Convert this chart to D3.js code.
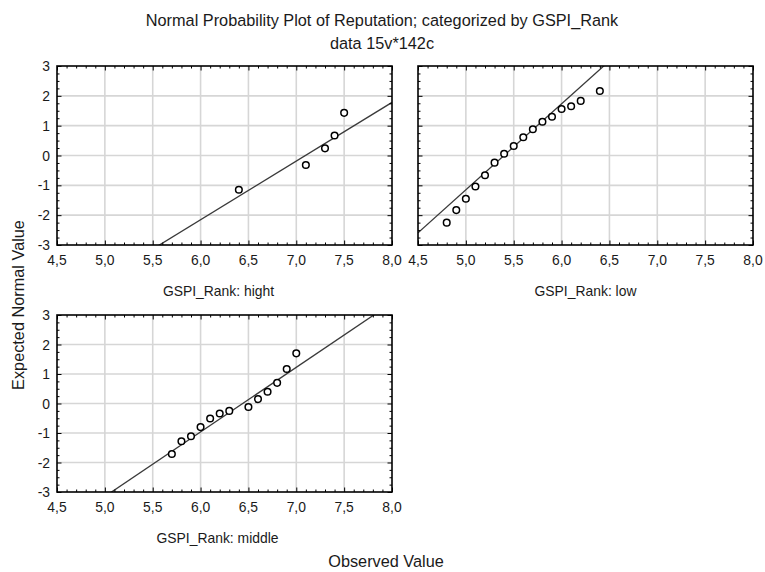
<!DOCTYPE html>
<html><head><meta charset="utf-8">
<script src="https://cdn.jsdelivr.net/npm/d3@7"></script>
<style>
body{margin:0;background:#fff;}
svg{display:block;font-family:"Liberation Sans",Arial,sans-serif;}
</style></head>
<body>
<svg id="chart" width="765" height="572"></svg>
<script>
// ---- data ----
const titleLines = ["Normal Probability Plot of Reputation; categorized by GSPI_Rank", "data 15v*142c"];
const xAxisTitle = "Observed Value";
const yAxisTitle = "Expected Normal Value";
const panelLabels = ["GSPI_Rank: hight", "GSPI_Rank: low", "GSPI_Rank: middle"];
const xTicks = [4.5, 5.0, 5.5, 6.0, 6.5, 7.0, 7.5, 8.0];
const yTicks = [-3, -2, -1, 0, 1, 2, 3];

const hightObserved = [6.4, 7.1, 7.3, 7.4, 7.5];
const hightExpected = [-1.15, -0.32, 0.24, 0.67, 1.43];
const lowObserved = [4.8, 4.9, 5.0, 5.1, 5.2, 5.3, 5.4, 5.5, 5.6, 5.7, 5.8, 5.9, 6.0, 6.1, 6.2, 6.4];
const lowExpected = [-2.25, -1.83, -1.45, -1.04, -0.66, -0.24, 0.06, 0.32, 0.61, 0.88, 1.13, 1.30, 1.56, 1.65, 1.83, 2.16];
const middleObserved = [5.7, 5.8, 5.9, 6.0, 6.1, 6.2, 6.3, 6.5, 6.6, 6.7, 6.8, 6.9, 7.0];
const middleExpected = [-1.71, -1.28, -1.11, -0.80, -0.51, -0.34, -0.25, -0.12, 0.15, 0.40, 0.70, 1.17, 1.70];
// fitted lines: expected = intercept + slope * observed
const fitIntercepts = [-13.956, -15.555, -14.103];
const fitSlopes = [1.967, 2.881, 2.19];

// ---- layout ----
const svg = d3.select("#chart");
const txt = "#1a1a1a";
const panels = [
  {obs: hightObserved, exp: hightExpected, label: panelLabels[0], x0: 57, x1: 392, y0: 66, y1: 245, yLabels: true, labelDx: -6},
  {obs: lowObserved, exp: lowExpected, label: panelLabels[1], x0: 418, x1: 753, y0: 66, y1: 245, yLabels: false, labelDx: 0},
  {obs: middleObserved, exp: middleExpected, label: panelLabels[2], x0: 57, x1: 392, y0: 315, y1: 492, yLabels: true, labelDx: -7}
];
const fmt = v => d3.format(".1f")(v).replace(".", ",");

svg.append("text").attr("x", 382).attr("y", 26).attr("text-anchor", "middle")
  .attr("font-size", 16.3).attr("fill", txt).text(titleLines[0]);
svg.append("text").attr("x", 382).attr("y", 49).attr("text-anchor", "middle")
  .attr("font-size", 16.3).attr("fill", txt).text(titleLines[1]);
svg.append("text").attr("x", 386).attr("y", 567).attr("text-anchor", "middle")
  .attr("font-size", 16.3).attr("fill", txt).text(xAxisTitle);
svg.append("text").attr("transform", "translate(24,305) rotate(-90)").attr("text-anchor", "middle")
  .attr("font-size", 16.3).attr("fill", txt).text(yAxisTitle);

const defs = svg.append("defs");

panels.forEach((p, i) => {
  const x = d3.scaleLinear().domain([4.5, 8.0]).range([p.x0, p.x1]);
  const y = d3.scaleLinear().domain([-3, 3]).range([p.y1, p.y0]);
  const g = svg.append("g");

  // gridlines
  g.selectAll(".gx").data(xTicks.slice(1, -1)).join("line")
    .attr("x1", d => x(d)).attr("x2", d => x(d)).attr("y1", p.y0).attr("y2", p.y1)
    .attr("stroke", "#d6d6d6").attr("stroke-width", 1.6);
  g.selectAll(".gy").data(yTicks.slice(1, -1)).join("line")
    .attr("y1", d => y(d)).attr("y2", d => y(d)).attr("x1", p.x0).attr("x2", p.x1)
    .attr("stroke", "#d6d6d6").attr("stroke-width", 1.6);

  // clip
  const cid = "clip" + i;
  defs.append("clipPath").attr("id", cid).append("rect")
    .attr("x", p.x0).attr("y", p.y0).attr("width", p.x1 - p.x0).attr("height", p.y1 - p.y0);

  // fit line
  const lx = [4.5, 8.0];
  g.append("line").attr("clip-path", `url(#${cid})`)
    .attr("x1", x(lx[0])).attr("y1", y(fitIntercepts[i] + fitSlopes[i] * lx[0]))
    .attr("x2", x(lx[1])).attr("y2", y(fitIntercepts[i] + fitSlopes[i] * lx[1]))
    .attr("stroke", "#3a3a3a").attr("stroke-width", 1.3);

  // points
  g.selectAll(".pt").data(p.obs.map((o, k) => [o, p.exp[k]])).join("circle")
    .attr("cx", d => x(d[0])).attr("cy", d => y(d[1])).attr("r", 3.3)
    .attr("fill", "#fff").attr("stroke", "#000").attr("stroke-width", 1.5);

  // axes with inward ticks (major + minor), on all four sides
  const minorX = d3.range(45, 81).map(v => v / 10).filter(v => Math.abs(v * 2 - Math.round(v * 2)) > 1e-6);
  const minorY = d3.range(-12, 13).map(v => v / 4).filter(v => !Number.isInteger(v));
  const mk = (axis, sc, vals, size) => axis(sc).tickValues(vals).tickSize(size).tickFormat("");
  const addAxis = (gen, tr) => {
    const a = g.append("g").attr("transform", tr).call(gen);
    a.select(".domain").remove();
    a.selectAll("line").attr("stroke", "#000").attr("stroke-width", 1);
  };
  addAxis(mk(d3.axisTop, x, xTicks, 4.5), `translate(0,${p.y1})`);
  addAxis(mk(d3.axisTop, x, minorX, 2.5), `translate(0,${p.y1})`);
  addAxis(mk(d3.axisBottom, x, xTicks, 4.5), `translate(0,${p.y0})`);
  addAxis(mk(d3.axisBottom, x, minorX, 2.5), `translate(0,${p.y0})`);
  addAxis(mk(d3.axisRight, y, yTicks, 4.5), `translate(${p.x0},0)`);
  addAxis(mk(d3.axisRight, y, minorY, 2.5), `translate(${p.x0},0)`);
  addAxis(mk(d3.axisLeft, y, yTicks, 4.5), `translate(${p.x1},0)`);
  addAxis(mk(d3.axisLeft, y, minorY, 2.5), `translate(${p.x1},0)`);

  // frame
  g.append("rect").attr("x", p.x0).attr("y", p.y0).attr("width", p.x1 - p.x0).attr("height", p.y1 - p.y0)
    .attr("fill", "none").attr("stroke", "#000").attr("stroke-width", 1.6);

  // tick labels
  g.selectAll(".xl").data(xTicks).join("text")
    .attr("x", d => x(d)).attr("y", p.y1 + 20).attr("text-anchor", "middle")
    .attr("font-size", 13.9).attr("fill", txt).text(fmt);
  if (p.yLabels) {
    g.selectAll(".yl").data(yTicks).join("text")
      .attr("x", p.x0 - 7).attr("y", d => y(d)).attr("dy", "0.36em").attr("text-anchor", "end")
      .attr("font-size", 13.9).attr("fill", txt).text(d => d);
  }
  // panel label
  g.append("text").attr("x", (p.x0 + p.x1) / 2 + p.labelDx).attr("y", p.y1 + 51).attr("text-anchor", "middle")
    .attr("font-size", 13.9).attr("fill", txt).text(p.label);
});
</script>
</body></html>
